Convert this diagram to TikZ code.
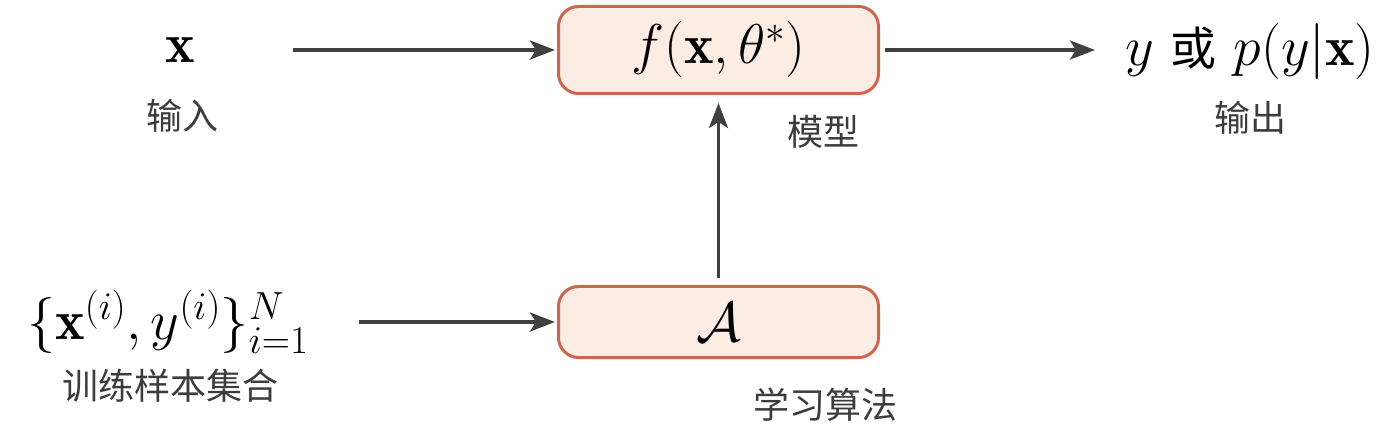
\RequirePackage{fix-cm}
\documentclass[tikz,border=0pt]{standalone}
\usepackage{amsmath}
\usepackage{fontspec}
\newfontfamily\cjk{Noto Sans CJK SC}
\usetikzlibrary{arrows.meta}
\definecolor{boxborder}{RGB}{205,102,78}
\definecolor{boxfill}{RGB}{251,236,228}
\definecolor{arrowc}{RGB}{64,64,64}
\definecolor{labelc}{RGB}{60,60,60}
\begin{document}
\begin{tikzpicture}[x=1pt,y=-1pt,
  mathtext/.style={font=\fontsize{56}{62}\selectfont, inner sep=0pt, outer sep=0pt},
  cnlabel/.style={font=\fontsize{36}{40}\selectfont\cjk, text=labelc, inner sep=0pt},
  modelbox/.style={draw=boxborder, fill=boxfill, line width=3pt, rounded corners=20pt,
    minimum width=320pt, inner sep=0pt, font=\fontsize{56}{62}\selectfont},
  conn/.style={draw=arrowc, line width=3.5pt, -{Stealth[length=25pt,width=19pt,inset=6pt]}}
]
\useasboundingbox (0,0) rectangle (1400,438);
\node[mathtext, minimum width=226pt] (xin) at (180,50) {$\mathbf{x}$};
\node[cnlabel] (xlab) at (182,116) {输入};
\node[modelbox, minimum height=87pt] (fbox) at (718.5,50) {$f(\mathbf{x},\theta^*)$};
\node[mathtext, minimum width=310pt, anchor=west] (yout) at (1095,52) {$y$ {\cjk\fontsize{46}{50}\selectfont 或} $p(y|\mathbf{x})$};
\node[cnlabel] (ylab) at (1250,118) {输出};
\node[cnlabel] (flab) at (823,132) {模型};
\node[modelbox, minimum height=71pt] (abox) at (718.5,322) {$\mathcal{A}$};
\node[mathtext] (data) at (168,322) {$\{\mathbf{x}^{(i)},y^{(i)}\}_{i=1}^N$};
\node[cnlabel] (dlab) at (170,386) {训练样本集合};
\node[cnlabel] (alab) at (825,405) {学习算法};
\draw[conn, shorten >=2pt] (xin) -- (fbox);
\draw[conn, shorten <=5pt] (fbox.east) -- (fbox.east -| yout.west);
\draw[conn, shorten <=50pt, shorten >=2pt] (data.east |- abox) -- (abox);
\draw[conn, shorten <=7pt, shorten >=8pt] (abox) -- (fbox);
\end{tikzpicture}
\end{document}
